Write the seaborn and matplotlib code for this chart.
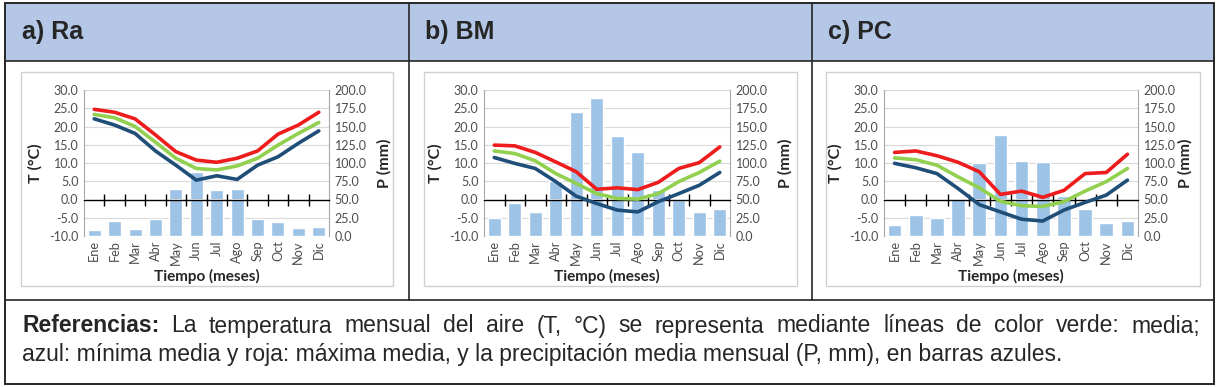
import numpy as np
import pandas as pd
import matplotlib
matplotlib.use("Agg")
import matplotlib.pyplot as plt
import seaborn as sns
from matplotlib.patches import Rectangle
from matplotlib.lines import Line2D
from matplotlib.ticker import FormatStrFormatter

sns.set_style("white")
plt.rcParams['font.family'] = ['Lato', 'DejaVu Sans']

# datos
meses = ["Ene", "Feb", "Mar", "Abr", "May", "Jun", "Jul", "Ago", "Sep", "Oct", "Nov", "Dic"]

ra_p = [8.7, 21, 10, 23.4, 65, 87, 63.6, 65, 23.4, 19.7, 11.4, 12.4]
ra_tmax = [24.7, 23.9, 22.1, 17.7, 13.1, 10.8, 10.2, 11.3, 13.3, 17.9, 20.4, 23.9]
ra_tmed = [23.3, 22.4, 20.0, 15.7, 11.3, 8.5, 8.1, 9.2, 11.3, 14.9, 18.1, 21.1]
ra_tmin = [22.1, 20.4, 18.1, 13.3, 9.4, 5.3, 6.5, 5.5, 9.4, 11.7, 15.4, 18.8]

bm_p = [24.7, 45.3, 33, 76, 170.3, 188.6, 136.9, 115.4, 63.6, 50, 33, 36.6]
bm_tmax = [14.9, 14.7, 12.9, 10.3, 7.6, 2.8, 3.2, 2.7, 4.7, 8.5, 10.1, 14.4]
bm_tmed = [13.3, 12.6, 10.6, 7.1, 4.4, 1.6, 0.3, 0.1, 1.6, 4.9, 7.4, 10.5]
bm_tmin = [11.5, 9.9, 8.5, 4.9, 0.9, -1.1, -2.9, -3.4, -0.6, 1.6, 3.9, 7.4]

pc_p = [15.6, 28.8, 24.7, 51.3, 99.4, 138.3, 103, 100.7, 55, 36.6, 18.3, 20.6]
pc_tmax = [12.9, 13.3, 12.0, 10.2, 7.6, 1.4, 2.3, 0.6, 2.5, 7.1, 7.4, 12.4]
pc_tmed = [11.4, 10.9, 9.4, 6.2, 3.2, -0.5, -1.7, -1.9, -0.6, 2.3, 4.9, 8.5]
pc_tmin = [9.9, 8.7, 7.1, 3.0, -1.4, -3.4, -5.4, -5.9, -2.9, -0.8, 1.2, 5.3]

titulos = ["a) Ra", "b) BM", "c) PC"]

BAR = "#9DC3E6"
RED = "#EE1C1C"
GREEN = "#92D050"
BLUE = "#1F4E79"
GRID = "#D9D9D9"
TICK = "#4D4D4D"

W, H = 1220, 387
fig = plt.figure(figsize=(W / 100, H / 100), dpi=100)


def fx(px):
    return px / W


def fy(py):
    return 1 - py / H


def panel(left, right, t_off, p_off, pp, tmax, tmed, tmin):
    top, bot = 90, 236
    ax = fig.add_axes([fx(left), fy(bot), fx(right) - fx(left), fy(top) - fy(bot)])
    df = pd.DataFrame({"mes": meses, "pos": np.arange(len(meses)), "P": pp,
                       "Tmax": tmax, "Tmed": tmed, "Tmin": tmin})
    sns.barplot(data=df, x="mes", y="P", color=BAR, saturation=1, width=0.64,
                ax=ax, zorder=2)
    ax.set_xlim(-0.5, 11.5)
    ax.set_ylim(0, 200)
    ax.set_yticks(np.arange(0, 201, 25))
    ax.yaxis.set_major_formatter(FormatStrFormatter('%.1f'))
    ax.grid(axis='y', color=GRID, lw=0.8)
    ax.set_axisbelow(True)

    tw = ax.twinx()
    sns.lineplot(data=df, x="pos", y="Tmin", color=BLUE, lw=2.6, ax=tw)
    sns.lineplot(data=df, x="pos", y="Tmed", color=GREEN, lw=2.6, ax=tw)
    sns.lineplot(data=df, x="pos", y="Tmax", color=RED, lw=2.6, ax=tw)
    tw.set_ylim(-10, 30)
    tw.set_yticks(np.arange(-10, 31, 5))
    tw.yaxis.set_major_formatter(FormatStrFormatter('%.1f'))
    tw.set_xlim(-0.5, 11.5)

    # temperatura a la izquierda, precipitacion a la derecha
    tw.yaxis.tick_left()
    tw.yaxis.set_label_position('left')
    ax.yaxis.tick_right()
    ax.yaxis.set_label_position('right')

    for a in (ax, tw):
        a.tick_params(axis='y', length=0, pad=4, labelsize=9, labelcolor=TICK)
        for s in a.spines.values():
            s.set_visible(False)
    ax.spines['left'].set_visible(True)
    ax.spines['right'].set_visible(True)
    ax.spines['left'].set_color('#A6A6A6')
    ax.spines['right'].set_color('#A6A6A6')

    ax.tick_params(axis='x', length=0, pad=3, labelsize=9.2, labelcolor=TICK,
                   labelrotation=90)
    ax.set_xlabel("Tiempo (meses)", fontsize=11, fontweight='bold', va='center')
    ax.xaxis.set_label_coords(0.5, (bot - 276) / (bot - top))
    w = right - left
    tw.set_ylabel("T (°C)", fontsize=11.5, fontweight='bold', va='center', ha='center')
    tw.yaxis.set_label_coords(-t_off / w, 0.5)
    ax.set_ylabel("P (mm)", fontsize=11.5, fontweight='bold', va='center', ha='center')
    ax.yaxis.set_label_coords(1 + p_off / w, 0.5)
    tw.set_xlabel("")

    # eje en T = 0 con marcas entre meses
    sec = ax.secondary_xaxis(0.25)
    sec.set_xticks(np.arange(0.5, 11, 1))
    sec.set_xticklabels([])
    sec.tick_params(axis='x', direction='inout', length=8, width=1, color='black')
    for s in sec.spines.values():
        s.set_color('black')
        s.set_linewidth(1)
    sec.set_zorder(3)
    return ax


# marco y encabezado
fig.add_artist(Rectangle((fx(5), fy(61)), fx(1214) - fx(5), fy(3) - fy(61),
                         transform=fig.transFigure, facecolor="#B4C7E7", edgecolor='none'))
fig.add_artist(Rectangle((fx(5), fy(384)), fx(1214) - fx(5), fy(3) - fy(384),
                         transform=fig.transFigure, fill=False, edgecolor='#262626', lw=1.4))
for yy in (61, 300):
    fig.add_artist(Line2D([fx(5), fx(1214)], [fy(yy), fy(yy)], color='#262626', lw=1.2))
for xx in (409, 812):
    fig.add_artist(Line2D([fx(xx), fx(xx)], [fy(3), fy(300)], color='#262626', lw=1.2))

boxes = [(21, 393), (424, 797), (826, 1200)]
for (b0, b1) in boxes:
    fig.add_artist(Rectangle((fx(b0), fy(286)), fx(b1) - fx(b0), fy(72) - fy(286),
                             transform=fig.transFigure, fill=False, edgecolor='#D0D0D0', lw=1))

fam = ['Liberation Sans', 'DejaVu Sans']
for tx, t in zip((22, 425, 828), titulos):
    fig.text(fx(tx), fy(32), t, fontsize=18, fontweight='bold', va='center', family=fam)

panel(84, 329, 49, 55, ra_p, ra_tmax, ra_tmed, ra_tmin)
panel(484, 730, 49, 55, bm_p, bm_tmax, bm_tmed, bm_tmin)
panel(884, 1138, 49, 47, pc_p, pc_tmax, pc_tmed, pc_tmin)

# referencias (primera linea justificada)
linea1 = "Referencias: La temperatura mensual del aire (T, °C) se representa mediante líneas de color verde: media;"
linea2 = "azul: mínima media y roja: máxima media, y la precipitación media mensual (P, mm), en barras azules."
palabras = linea1.split(" ")
renderer = fig.canvas.get_renderer()
objs = []
for i, pal in enumerate(palabras):
    wgt = 'bold' if i == 0 else 'normal'
    objs.append(fig.text(0, fy(326), pal, fontsize=16.5, fontweight=wgt, va='center',
                         family=fam))
anchos = [o.get_window_extent(renderer).width for o in objs]
x_ini, x_fin = 22, 1200
gap = (x_fin - x_ini - sum(anchos)) / (len(objs) - 1)
xc = x_ini
for o, a in zip(objs, anchos):
    o.set_x(fx(xc))
    xc += a + gap
fig.text(fx(22), fy(354), linea2, fontsize=16.5, va='center', family=fam)

fig.savefig("out.png", dpi=100)
